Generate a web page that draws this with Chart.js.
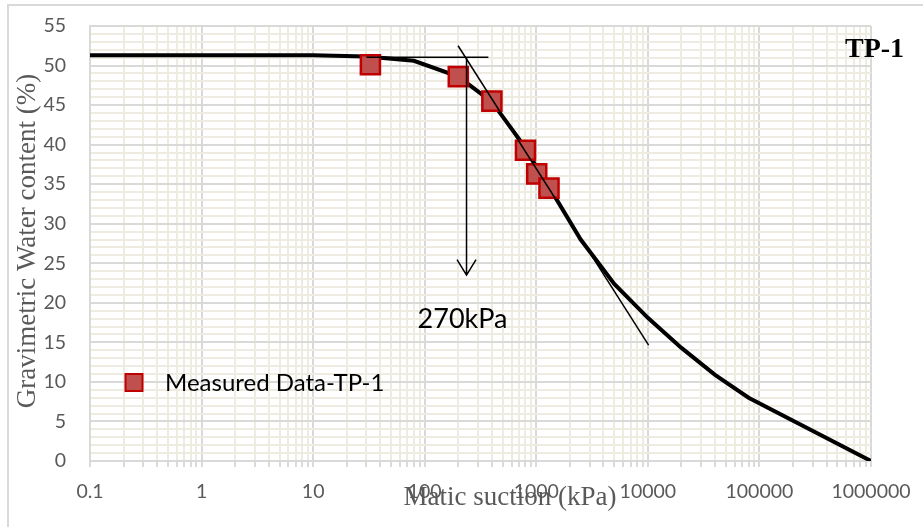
<!DOCTYPE html>
<html>
<head>
<meta charset="utf-8">
<script src="https://cdn.jsdelivr.net/npm/chart.js@4/dist/chart.umd.min.js"></script>
<style>
  html, body { margin: 0; padding: 0; background: #ffffff; }
  #wrap { width: 923px; height: 527px; position: relative; }
</style>
</head>
<body>
<div id="wrap"><canvas id="chart" width="923" height="527"></canvas></div>
<script>
// Soil-water characteristic curve, test pit TP-1

// Measured points: matric suction (kPa) and gravimetric water content (%)
const measuredSuction = [32.6, 200, 400, 800, 1009, 1300];
const measuredWater   = [50.1, 48.6, 45.5, 39.3, 36.3, 34.5];

// Fitted curve
const fitSuction = [0.1, 1, 10, 30, 80, 200, 400, 800, 1000, 1500, 2500, 5000, 10000, 20000, 40000, 80000, 1000000];
const fitWater   = [51.3, 51.3, 51.3, 51.15, 50.6, 48.6, 45.4, 39.6, 37.2, 33.2, 28.0, 22.4, 18.1, 14.3, 10.9, 8.0, 0];

// Construction lines for the air-entry value
const flatLineSuction  = [30, 372];
const flatLineWater    = [51.04, 51.04];
const slopeLineSuction = [199, 10160];
const slopeLineWater   = [52.5, 14.64];

// Air-entry arrow
const arrowSuction = 237;
const arrowFrom = 51.04;
const arrowTo   = 23.5;
const arrowLabel = '270kPa';

// Axis settings
const xDecades = [-1, 0, 1, 2, 3, 4, 5];
const xMin = 0.1, xMax = 1000000;
const yMin = 0, yMax = 55;

const seriesName = 'Measured Data-TP-1';
const panelName = 'TP-1';
const xTitle = 'Matic suction (kPa)';
const yTitle = 'Gravimetric Water content (%)';

const toXY = (xs, ys) => xs.map((x, i) => ({ x: x, y: ys[i] }));

function isDecade(v) {
  const l = Math.log10(v);
  return Math.abs(l - Math.round(l)) < 1e-9;
}

const MAJOR_GRID = '#D9D9D9';
const MINOR_GRID = '#EEECE1';
const MARKER_FILL = '#C0504D';
const MARKER_EDGE = '#C00000';
const TEXT_GREY = '#595959';

const decorations = {
  id: 'decorations',
  beforeDraw(chart) {
    const c = chart.ctx;
    c.save();
    c.fillStyle = '#ffffff';
    c.fillRect(0, 0, chart.width, chart.height);
    c.strokeStyle = '#D9D9D9';
    c.lineWidth = 2;
    c.strokeRect(8, 5, chart.width + 20, chart.height + 20);
    c.restore();
  },
  afterDatasetsDraw(chart) {
    const c = chart.ctx;
    const xs = chart.scales.x, ys = chart.scales.y;
    const ax = xs.getPixelForValue(arrowSuction);
    const y0 = ys.getPixelForValue(arrowFrom);
    const y1 = ys.getPixelForValue(arrowTo);
    c.save();
    c.strokeStyle = '#000000';
    c.lineWidth = 1.5;
    c.beginPath();
    c.moveTo(ax, y0);
    c.lineTo(ax, y1);
    c.moveTo(ax - 9.5, y1 - 15.5);
    c.lineTo(ax, y1);
    c.lineTo(ax + 9.5, y1 - 15.5);
    c.stroke();

    c.fillStyle = '#000000';
    c.font = '27px Lato';
    c.textAlign = 'center';
    c.textBaseline = 'alphabetic';
    c.fillText(arrowLabel, ax - 4, 327.5);
    c.restore();
  },
  afterDraw(chart) {
    const c = chart.ctx;
    c.save();
    // legend entry inside the plot area
    const lx = 134, ly = 382.5, s = 17;
    c.fillStyle = MARKER_FILL;
    c.strokeStyle = MARKER_EDGE;
    c.lineWidth = 2;
    c.fillRect(lx - s / 2, ly - s / 2, s, s);
    c.strokeRect(lx - s / 2, ly - s / 2, s, s);
    c.fillStyle = '#000000';
    c.font = '24px Lato';
    c.textAlign = 'left';
    c.textBaseline = 'alphabetic';
    c.fillText(seriesName, 165, 390.5);

    // panel tag
    c.font = 'bold 28px "Liberation Serif"';
    c.fillText(panelName, 845, 56.5);

    // axis titles
    c.fillStyle = TEXT_GREY;
    c.font = '27px "Liberation Serif"';
    c.textAlign = 'center';
    c.fillText(xTitle, 510, 505);
    c.translate(35, 241);
    c.rotate(-Math.PI / 2);
    c.fillText(yTitle, 0, 0);
    c.restore();
  }
};

new Chart(document.getElementById('chart'), {
  type: 'scatter',
  data: {
    datasets: [
      {
        label: 'flat',
        data: toXY(flatLineSuction, flatLineWater),
        showLine: true,
        borderColor: '#000000',
        borderWidth: 1.5,
        pointRadius: 0,
        order: 0
      },
      {
        label: 'slope',
        data: toXY(slopeLineSuction, slopeLineWater),
        showLine: true,
        borderColor: '#000000',
        borderWidth: 1.5,
        pointRadius: 0,
        order: 0
      },
      {
        label: seriesName,
        data: toXY(measuredSuction, measuredWater),
        pointStyle: 'rect',
        pointRadius: 13.5,
        pointHoverRadius: 13.5,
        backgroundColor: MARKER_FILL,
        borderColor: MARKER_EDGE,
        borderWidth: 2.5,
        order: 1
      },
      {
        label: 'fit',
        data: toXY(fitSuction, fitWater),
        showLine: true,
        borderColor: '#000000',
        borderWidth: 4,
        pointRadius: 0,
        tension: 0,
        order: 2
      }
    ]
  },
  options: {
    responsive: false,
    animation: false,
    events: [],
    layout: { padding: { top: 26, right: 52, left: 0, bottom: 0 } },
    plugins: {
      legend: { display: false },
      tooltip: { enabled: false }
    },
    scales: {
      x: {
        type: 'logarithmic',
        min: xMin,
        max: xMax,
        afterBuildTicks(scale) {
          const ticks = [];
          xDecades.forEach(e => {
            for (let k = 1; k <= 9; k++) {
              ticks.push({ value: Number((k * Math.pow(10, e)).toPrecision(12)) });
            }
          });
          ticks.push({ value: xMax });
          scale.ticks = ticks;
        },
        afterFit(scale) {
          scale.height = 66;
          scale.paddingLeft = 0;
          scale.paddingRight = 0;
        },
        ticks: {
          autoSkip: false,
          maxRotation: 0,
          minRotation: 0,
          padding: 13,
          color: TEXT_GREY,
          font: { family: 'Lato', size: 19.5 },
          callback(v) { return isDecade(v) ? String(v) : ''; }
        },
        grid: {
          color: ctx => (ctx.tick && isDecade(ctx.tick.value)) ? MAJOR_GRID : MINOR_GRID,
          lineWidth: 2,
          tickLength: 6,
          tickColor: '#CFCFCF',
          tickWidth: 1.5
        },
        border: { display: true, color: MAJOR_GRID, width: 2 }
      },
      y: {
        type: 'linear',
        min: yMin,
        max: yMax,
        afterFit(scale) {
          scale.width = 90;
          scale.paddingTop = 0;
          scale.paddingBottom = 0;
        },
        ticks: {
          stepSize: 1,
          autoSkip: false,
          padding: 24,
          color: TEXT_GREY,
          font: { family: 'Lato', size: 19.5 },
          callback(v) { return v % 5 === 0 ? String(v) : ''; }
        },
        grid: {
          color: ctx => (ctx.tick && ctx.tick.value % 5 === 0) ? MAJOR_GRID : MINOR_GRID,
          lineWidth: 2,
          drawTicks: false
        },
        border: { display: true, color: MAJOR_GRID, width: 2 }
      }
    }
  },
  plugins: [decorations]
});
</script>
</body>
</html>
